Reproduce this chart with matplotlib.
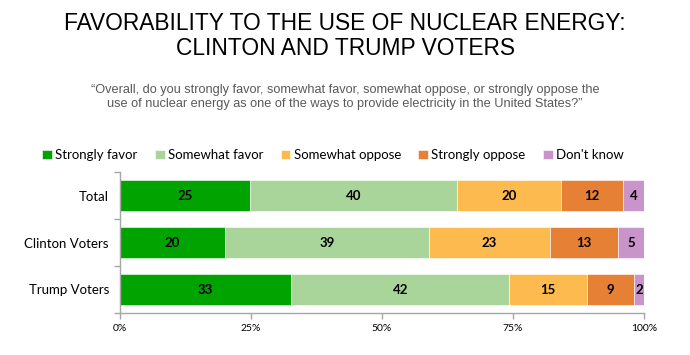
import matplotlib
matplotlib.use("Agg")
import matplotlib.pyplot as plt
import numpy as np

categories = ["Total", "Clinton Voters", "Trump Voters"]
series_names = ["Strongly favor", "Somewhat favor", "Somewhat oppose", "Strongly oppose", "Don't know"]
strongly_favor = [25, 20, 33]
somewhat_favor = [40, 39, 42]
somewhat_oppose = [20, 23, 15]
strongly_oppose = [12, 13, 9]
dont_know = [4, 5, 2]
colors = ["#00A300", "#A9D59B", "#FDBA4F", "#E68035", "#C994C9"]
xtick_labels = ["0%", "25%", "50%", "75%", "100%"]

title = "FAVORABILITY TO THE USE OF NUCLEAR ENERGY:\nCLINTON AND TRUMP VOTERS"
subtitle = ("\u201cOverall, do you strongly favor, somewhat favor, somewhat oppose, or strongly oppose the\n"
            "use of nuclear energy as one of the ways to provide electricity in the United States?\u201d")

series = [strongly_favor, somewhat_favor, somewhat_oppose, strongly_oppose, dont_know]
data = np.array(series, dtype=float)
totals = data.sum(axis=0)
pct = data / totals * 100

label_font = ["Lato", "DejaVu Sans"]
title_font = ["Liberation Sans", "DejaVu Sans"]

fig = plt.figure(figsize=(6.9, 3.55), dpi=100)
W, H = 690, 355
ax = fig.add_axes([120 / W, 1 - 313 / H, (644 - 120) / W, (313 - 172) / H])

y = np.arange(len(categories))
left = np.zeros(len(categories))
handles = []
for i, name in enumerate(series_names):
    bars = ax.barh(y, pct[i], left=left, height=0.64, color=colors[i], label=name,
                   edgecolor="white", linewidth=0.4)
    handles.append(bars)
    for j in range(len(categories)):
        ax.text(left[j] + pct[i][j] / 2, y[j], str(series[i][j]), ha="center", va="center",
                fontsize=9.5, fontweight="bold", color="black", family=label_font)
    left += pct[i]

ax.set_xlim(0, 100)
ax.set_ylim(len(categories) - 0.5, -0.5)
ax.set_xticks([0, 25, 50, 75, 100])
ax.set_xticklabels(xtick_labels, fontsize=7.5, family=label_font)
ax.set_yticks(y)
ax.set_yticklabels(categories, fontsize=9.5, family=label_font)
ax.tick_params(axis="y", length=0, pad=8)
ax.set_yticks([-0.5, 0.5, 1.5, 2.5], minor=True)
ax.tick_params(axis="y", which="minor", length=4, color="#A6A6A6", width=1)
ax.tick_params(axis="x", length=4, color="#A6A6A6", width=1, pad=4)
for s in ["top", "right"]:
    ax.spines[s].set_visible(False)
for s in ["left", "bottom"]:
    ax.spines[s].set_color("#A6A6A6")
    ax.spines[s].set_linewidth(1)

fig.legend(handles=handles, labels=series_names, loc="center", bbox_to_anchor=(333 / W, 1 - 155 / H),
           ncol=5, frameon=False, prop={"family": label_font, "size": 9.5},
           handlelength=0.75, handleheight=0.75, handletextpad=0.25, columnspacing=1.3)

fig.text(0.5, 1 - 36 / H, title, ha="center", va="center", fontsize=16.4, family=title_font,
         color="black", linespacing=1.15)
fig.text(0.5, 1 - 97 / H, subtitle, ha="center", va="center", fontsize=9.2, family=title_font,
         color="#595959", linespacing=1.25)

fig.savefig("out.png", dpi=100)
